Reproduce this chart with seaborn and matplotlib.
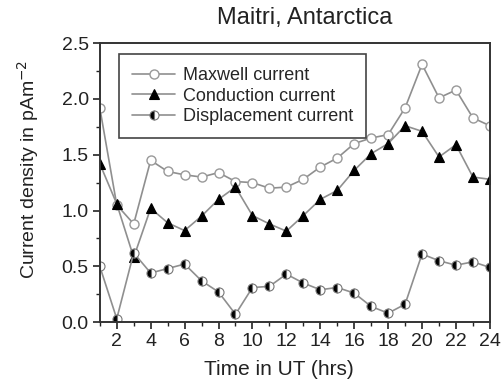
import numpy as np
import pandas as pd
import matplotlib
matplotlib.use("Agg")
import matplotlib.pyplot as plt
import seaborn as sns
from matplotlib.ticker import MultipleLocator

hours = list(range(1, 25))
maxwell = [1.92, 1.05, 0.88, 1.45, 1.35, 1.32, 1.30, 1.34, 1.26, 1.25, 1.20, 1.21,
           1.28, 1.39, 1.47, 1.60, 1.65, 1.68, 1.92, 2.31, 2.01, 2.08, 1.83, 1.76]
conduction = [1.42, 1.06, 0.58, 1.02, 0.89, 0.82, 0.95, 1.10, 1.21, 0.955, 0.88, 0.815,
              0.955, 1.10, 1.18, 1.36, 1.51, 1.60, 1.76, 1.71, 1.48, 1.59, 1.30, 1.28]
displacement = [0.50, 0.03, 0.62, 0.44, 0.48, 0.52, 0.37, 0.27, 0.07, 0.31, 0.32, 0.43,
                0.35, 0.29, 0.31, 0.26, 0.14, 0.08, 0.16, 0.61, 0.55, 0.51, 0.54, 0.49]
labels = ["Maxwell current", "Conduction current", "Displacement current"]

sns.set_style("ticks")
plt.rcParams['font.family'] = ['Liberation Sans', 'DejaVu Sans']

fig = plt.figure(figsize=(5.04, 3.89), dpi=100)
ax = fig.add_axes([0.198, 0.172, 0.774, 0.717])

df = pd.DataFrame({"hour": hours, "m": maxwell, "c": conduction, "d": displacement})
line_col = "#8f8f8f"
sns.lineplot(data=df, x="hour", y="m", ax=ax, color=line_col, lw=1.2, marker="o",
             markersize=6.5, markerfacecolor="white", markeredgecolor="#999999",
             markeredgewidth=1.0, label=labels[0])
sns.lineplot(data=df, x="hour", y="c", ax=ax, color=line_col, lw=1.2, marker="^",
             markersize=7, markerfacecolor="black", markeredgecolor="black",
             markeredgewidth=0.8, label=labels[1])
sns.lineplot(data=df, x="hour", y="d", ax=ax, color=line_col, lw=1.2, marker="o",
             markersize=6.5, markerfacecolor="black", markerfacecoloralt="white",
             fillstyle="left", markeredgecolor="#777777", markeredgewidth=0.8,
             label=labels[2])

ax.set_xlim(1, 24)
ax.set_ylim(0, 2.5)
ax.xaxis.set_minor_locator(MultipleLocator(1))
ax.yaxis.set_major_locator(MultipleLocator(0.5))
ax.yaxis.set_minor_locator(MultipleLocator(0.25))
ax.set_xticks(range(2, 25, 2))
ax.set_xticklabels([str(h) for h in range(2, 25, 2)])
ax.yaxis.set_major_formatter(matplotlib.ticker.FormatStrFormatter('%.1f'))
ax.tick_params(which="major", direction="out", length=5, width=1.2, labelsize=14,
               colors="#222222", pad=3)
ax.tick_params(which="minor", direction="out", length=3, width=1.0, colors="#222222")
for s in ax.spines.values():
    s.set_visible(True)
    s.set_linewidth(1.4)
    s.set_color("#333333")

ax.set_xlabel("Time in UT (hrs)", fontsize=15, color="#222222", labelpad=6)
ax.xaxis.set_label_coords(0.46, -0.135)
ax.set_ylabel("Current density in pAm$^{-2}$", fontsize=14, color="#222222")
ax.yaxis.set_label_coords(-0.15, 0.547)
ax.set_title("Maitri, Antarctica", fontsize=17, color="#222222", pad=14, x=0.525)

leg = ax.legend(loc="upper left", bbox_to_anchor=(0.05, 0.96), fontsize=13,
                frameon=True, fancybox=False, edgecolor="#444444", framealpha=1,
                borderpad=0.7, labelspacing=0.2, handlelength=2.4, handletextpad=0.45,
                borderaxespad=0.0)
leg.get_frame().set_linewidth(1.2)

fig.savefig("out.png", dpi=100)
